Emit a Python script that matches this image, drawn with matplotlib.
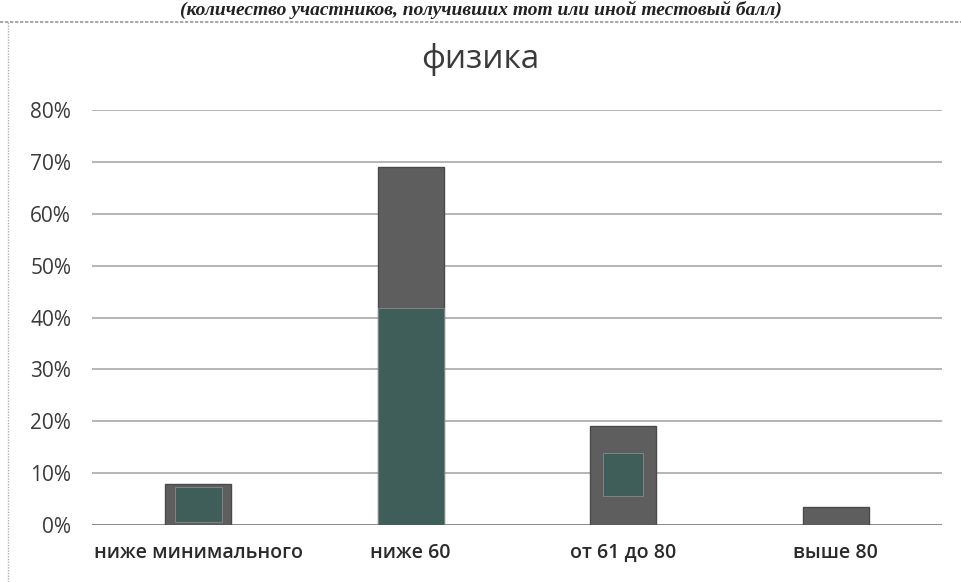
import matplotlib
matplotlib.use("Agg")
import matplotlib.pyplot as plt
from matplotlib.lines import Line2D

categories = ["ниже минимального", "ниже 60", "от 61 до 80", "выше 80"]
values = [7.9, 69.0, 19.1, 3.5]
# lighter teal shading visible inside the bars (bottom, top)
shade_bottom = [0.6, 0.0, 5.5, 0.0]
shade_top = [7.3, 41.9, 13.9, 0.0]
shade_width = [0.22, 0.31, 0.19, 0.0]
yticks = [0, 10, 20, 30, 40, 50, 60, 70, 80]
ytick_labels = ["0%", "10%", "20%", "30%", "40%", "50%", "60%", "70%", "80%"]
title = "физика"
caption = "(количество участников, получивших тот или иной тестовый балл)"

plt.rcParams['font.family'] = ['Open Sans', 'DejaVu Sans']

fig = plt.figure(figsize=(9.61, 5.82), dpi=100)
ax = fig.add_axes([92/961, 1-525/582, 850/961, (525-110)/582])

x = list(range(len(categories)))
ax.bar(x, values, width=0.31, color="#5e5e5e", edgecolor="#4a4a4a", linewidth=1, zorder=3)
heights = [t - b for t, b in zip(shade_top, shade_bottom)]
ax.bar(x, heights, bottom=shade_bottom, width=shade_width, color="#405e59",
       edgecolor="#8a8a8a", linewidth=0.6, zorder=4)

ax.set_xlim(-0.5, 3.5)
ax.set_ylim(0, 80)
ax.set_yticks(yticks)
ax.set_yticklabels(ytick_labels, fontsize=15, color="#3a3a3a")
ax.set_xticks(x)
ax.set_xticklabels(categories, fontsize=14, color="#2a2a2a", weight="semibold")
ax.tick_params(axis='y', length=0, pad=15)
ax.tick_params(axis='x', length=0, pad=13)
ax.yaxis.grid(True, color="#a8a8a8", linewidth=1.2, zorder=0)
ax.set_axisbelow(True)
for s in ax.spines.values():
    s.set_visible(False)
ax.axhline(0, color="#8a8a8a", linewidth=1.4, zorder=2)

fig.text(480/961, 1-60/582, title, ha="center", va="center", fontsize=24, color="#3a3a3a")
fig.text(0.5, 1-1/582, caption, ha="center", va="top", fontsize=14,
         family="Liberation Serif", style="italic", weight="bold", color="#222222")

fig.add_artist(Line2D([0, 1], [1-22/582, 1-22/582], transform=fig.transFigure,
                      color="#9a9a9a", linewidth=1.2, linestyle=(0, (2, 1))))
fig.add_artist(Line2D([8/961, 8/961], [0, 1-22/582], transform=fig.transFigure,
                      color="#b0b0b0", linewidth=1.0, linestyle=(0, (1, 1))))

fig.savefig("out.png", dpi=100)
